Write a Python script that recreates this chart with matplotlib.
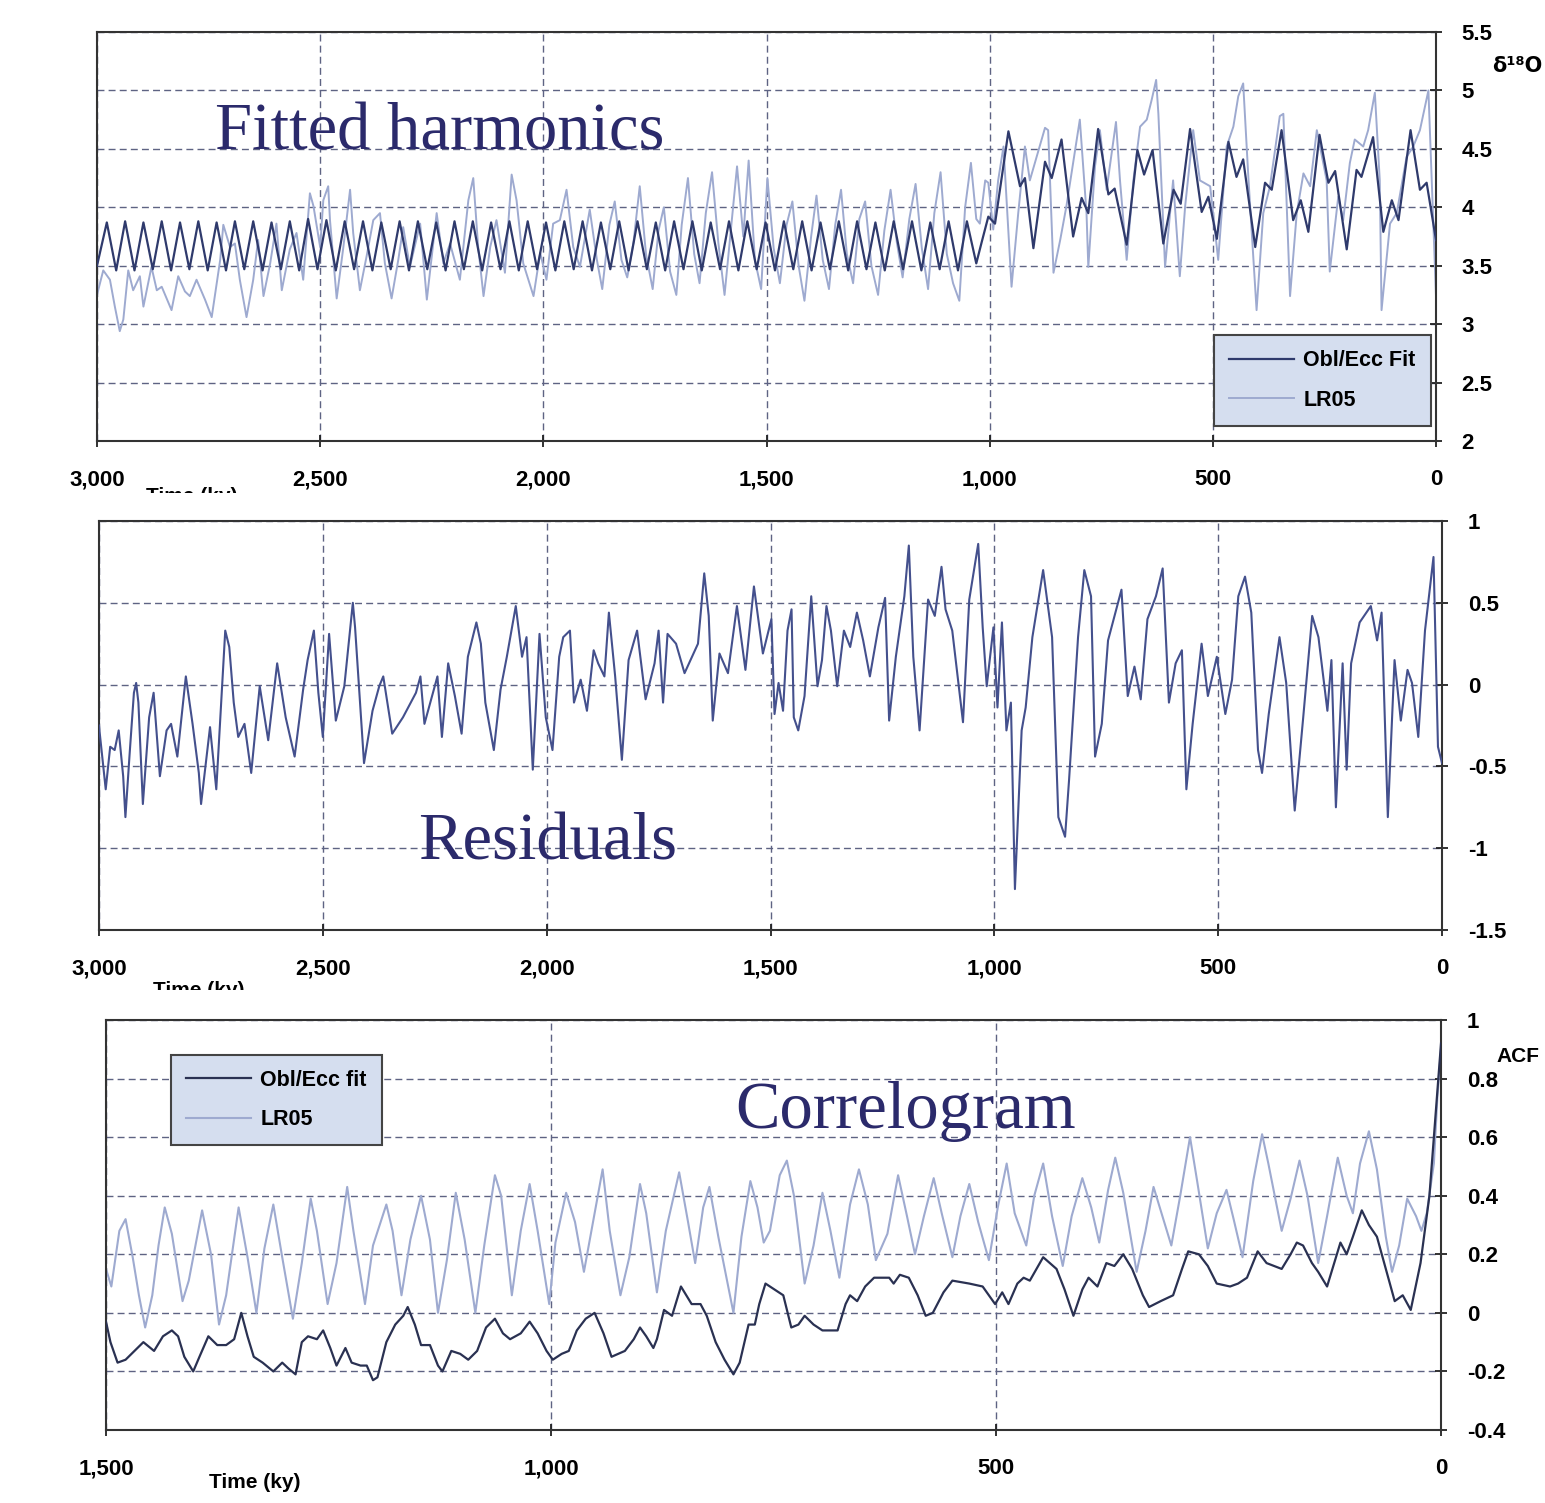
import matplotlib
matplotlib.use('Agg')
import matplotlib.pyplot as plt
from matplotlib.transforms import Bbox, TransformedBbox

plt.rcParams['axes.unicode_minus'] = False

# ---------------- Panel 1: fitted harmonics (time in ky, d18O) ----------------
fit_time = [3000, 2978, 2957, 2937, 2916, 2896, 2875, 2855, 2834, 2814, 2793, 2773, 2752,
            2732, 2711, 2691, 2670, 2650, 2629, 2609, 2588, 2568, 2547, 2527, 2506, 2486,
            2465, 2445, 2424, 2404, 2383, 2363, 2342, 2322, 2301, 2281, 2260, 2240, 2219,
            2199, 2178, 2158, 2137, 2117, 2096, 2076, 2055, 2035, 2014, 1994, 1973, 1953,
            1932, 1912, 1891, 1871, 1850, 1830, 1809, 1789, 1768, 1748, 1727, 1707, 1686,
            1666, 1645, 1625, 1604, 1584, 1563, 1543, 1522, 1502, 1481, 1461, 1440, 1420,
            1399, 1379, 1358, 1338, 1317, 1297, 1276, 1256, 1235, 1215, 1194, 1174, 1153,
            1133, 1112, 1092, 1071, 1051, 1030, 1018, 1003, 988, 958, 932, 921, 902, 876,
            861, 839, 813, 794, 779, 757, 734, 720, 693, 669, 654, 635, 611, 588, 572, 551,
            525, 510, 491, 465, 447, 432, 405, 383, 368, 346, 320, 303, 286, 261, 241, 226,
            200, 178, 167, 141, 118, 99, 84, 57, 36, 21, 0]
fit_d18o = [3.50, 3.87, 3.46, 3.88, 3.46, 3.87, 3.47, 3.88, 3.46, 3.87, 3.47, 3.88, 3.46,
            3.87, 3.46, 3.88, 3.47, 3.88, 3.46, 3.87, 3.47, 3.88, 3.46, 3.90, 3.47, 3.89,
            3.46, 3.88, 3.47, 3.88, 3.46, 3.87, 3.47, 3.88, 3.46, 3.88, 3.47, 3.87, 3.46,
            3.88, 3.47, 3.88, 3.46, 3.87, 3.47, 3.88, 3.46, 3.88, 3.47, 3.87, 3.46, 3.88,
            3.47, 3.88, 3.46, 3.87, 3.47, 3.88, 3.46, 3.88, 3.47, 3.87, 3.46, 3.88, 3.47,
            3.88, 3.46, 3.87, 3.47, 3.88, 3.46, 3.88, 3.47, 3.87, 3.46, 3.88, 3.47, 3.88,
            3.46, 3.87, 3.47, 3.88, 3.46, 3.88, 3.47, 3.87, 3.46, 3.88, 3.47, 3.88, 3.46,
            3.87, 3.47, 3.88, 3.46, 3.88, 3.52, 3.70, 3.92, 3.86, 4.65, 4.18, 4.25, 3.65, 4.39,
            4.25, 4.58, 3.75, 4.08, 3.95, 4.67, 4.11, 4.16, 3.68, 4.49, 4.28, 4.49, 3.69, 4.15,
            4.03, 4.67, 3.96, 4.09, 3.73, 4.56, 4.26, 4.41, 3.66, 4.21, 4.15, 4.66, 3.89, 4.06,
            3.79, 4.62, 4.21, 4.31, 3.64, 4.32, 4.26, 4.60, 3.79, 4.06, 3.89, 4.66, 4.15, 4.21,
            3.72]

lr05_time = [3000, 2986, 2971, 2960, 2949, 2941, 2930, 2919, 2904, 2896, 2878, 2866, 2855,
             2833, 2818, 2803, 2792, 2777, 2758, 2743, 2724, 2717, 2702, 2691, 2680, 2665,
             2650, 2639, 2627, 2612, 2598, 2586, 2568, 2553, 2538, 2523, 2515, 2500, 2493,
             2482, 2478, 2463, 2448, 2433, 2426, 2411, 2396, 2381, 2366, 2355, 2340, 2325,
             2314, 2299, 2276, 2261, 2239, 2224, 2209, 2187, 2168, 2157, 2146, 2134, 2119,
             2105, 2086, 2071, 2060, 2045, 2022, 2007, 1993, 1978, 1963, 1948, 1933, 1918,
             1896, 1880, 1868, 1852, 1840, 1825, 1812, 1798, 1784, 1770, 1755, 1742, 1730,
             1716, 1702, 1690, 1676, 1662, 1650, 1636, 1622, 1608, 1594, 1580, 1566, 1552,
             1540, 1526, 1512, 1498, 1484, 1470, 1455, 1442, 1428, 1415, 1400, 1388, 1374,
             1360, 1346, 1333, 1320, 1306, 1292, 1279, 1265, 1250, 1236, 1222, 1208, 1195,
             1180, 1166, 1152, 1138, 1124, 1110, 1096, 1082, 1068, 1055, 1042, 1030, 1022,
             1010, 1003, 992, 981, 969, 951, 936, 921, 910, 895, 876, 869, 857, 842, 828,
             813, 798, 783, 779, 764, 753, 738, 717, 708, 693, 678, 663, 648, 637, 627, 622,
             607, 589, 574, 562, 544, 529, 506, 488, 469, 454, 443, 432, 420, 402, 387, 372,
             350, 342, 327, 312, 297, 282, 267, 245, 238, 219, 208, 193, 182, 163, 152, 137,
             126, 122, 103, 88, 66, 51, 36, 17, 0]
lr05_d18o = [3.25, 3.46, 3.38, 3.15, 2.94, 3.04, 3.46, 3.29, 3.41, 3.15, 3.49, 3.29, 3.32,
             3.12, 3.41, 3.28, 3.24, 3.38, 3.21, 3.06, 3.55, 3.85, 3.66, 3.69, 3.38, 3.06,
             3.38, 3.72, 3.24, 3.52, 3.86, 3.29, 3.64, 3.78, 3.38, 4.12, 4.01, 3.66, 4.06,
             4.18, 3.89, 3.22, 3.66, 4.15, 3.78, 3.29, 3.58, 3.89, 3.95, 3.52, 3.22, 3.55,
             3.83, 3.49, 3.86, 3.21, 3.95, 3.52, 3.69, 3.38, 4.06, 4.25, 3.66, 3.24, 3.66,
             3.89, 3.44, 4.28, 4.06, 3.52, 3.24, 3.61, 3.38, 3.86, 3.89, 4.15, 3.66, 3.49,
             3.98, 3.55, 3.30, 3.85, 4.05, 3.55, 3.40, 3.70, 4.18, 3.60, 3.30, 3.80, 4.00,
             3.45, 3.25, 3.85, 4.25, 3.60, 3.35, 3.95, 4.30, 3.70, 3.25, 3.80, 4.35, 3.75,
             4.40, 3.55, 3.30, 4.25, 3.65, 3.35, 3.85, 4.05, 3.50, 3.20, 3.75, 4.10, 3.55,
             3.30, 3.85, 4.15, 3.60, 3.35, 3.90, 4.05, 3.50, 3.25, 3.80, 4.15, 3.70, 3.40,
             3.90, 4.20, 3.65, 3.30, 3.95, 4.30, 3.60, 3.35, 3.20, 4.00, 4.38, 3.90, 3.86,
             4.23, 4.21, 3.81, 4.23, 4.52, 3.32, 3.95, 4.52, 4.23, 4.43, 4.68, 4.66, 3.44,
             3.72, 4.01, 4.38, 4.75, 3.95, 3.49, 4.35, 4.66, 4.15, 4.73, 4.23, 3.55, 4.23,
             4.69, 4.75, 4.92, 5.09, 4.80, 3.49, 4.23, 3.41, 4.01, 4.66, 4.23, 4.18, 3.55,
             4.52, 4.69, 4.95, 5.06, 4.23, 3.12, 3.95, 4.18, 4.78, 4.80, 3.24, 3.95, 4.29,
             4.18, 4.66, 4.23, 3.45, 4.09, 3.89, 4.38, 4.58, 4.52, 4.66, 4.98, 4.23, 3.12,
             3.86, 3.95, 4.43, 4.52, 4.66, 5.00, 3.24]

# ---------------- Panel 2: residuals ----------------
resid_time = [3000, 2999, 2985, 2975, 2965, 2956, 2946, 2941, 2932, 2922, 2917, 2912, 2902,
              2888, 2878, 2864, 2849, 2839, 2825, 2806, 2791, 2777, 2772, 2752, 2738, 2718,
              2709, 2699, 2689, 2675, 2660, 2641, 2622, 2602, 2583, 2563, 2544, 2534, 2520,
              2510, 2500, 2486, 2471, 2452, 2433, 2428, 2408, 2389, 2374, 2365, 2345, 2321,
              2292, 2282, 2273, 2244, 2234, 2220, 2205, 2190, 2176, 2157, 2147, 2137, 2118,
              2103, 2089, 2069, 2055, 2045, 2031, 2016, 2002, 1987, 1972, 1963, 1948, 1939,
              1924, 1910, 1895, 1885, 1871, 1861, 1847, 1832, 1817, 1798, 1779, 1759, 1750,
              1740, 1730, 1711, 1692, 1662, 1648, 1638, 1629, 1614, 1595, 1575, 1556, 1537,
              1517, 1498, 1491, 1482, 1472, 1462, 1453, 1448, 1438, 1424, 1409, 1395, 1385,
              1375, 1365, 1351, 1336, 1322, 1307, 1293, 1278, 1259, 1244, 1235, 1220, 1201,
              1191, 1181, 1167, 1148, 1133, 1118, 1109, 1094, 1070, 1056, 1036, 1026, 1017,
              1002, 993, 983, 973, 963, 954, 939, 930, 915, 891, 871, 857, 842, 833, 813, 799,
              784, 775, 760, 746, 716, 702, 687, 673, 658, 639, 624, 610, 595, 581, 571, 557,
              537, 523, 503, 484, 469, 455, 440, 426, 411, 402, 387, 363, 348, 329, 310, 290,
              276, 256, 247, 237, 222, 213, 203, 184, 159, 145, 135, 121, 106, 92, 77, 67, 53,
              38, 19, 9, 0]
resid_val = [-0.25, -0.28, -0.64, -0.38, -0.40, -0.28, -0.56, -0.81, -0.44, -0.05, 0.01,
             -0.11, -0.73, -0.20, -0.05, -0.56, -0.28, -0.24, -0.44, 0.05, -0.24, -0.54,
             -0.73, -0.26, -0.64, 0.33, 0.23, -0.11, -0.32, -0.24, -0.54, -0.01, -0.34, 0.13,
             -0.20, -0.44, -0.03, 0.15, 0.33, -0.05, -0.32, 0.31, -0.22, -0.01, 0.50, 0.35,
             -0.48, -0.16, -0.01, 0.05, -0.30, -0.20, -0.05, 0.05, -0.24, 0.05, -0.32, 0.13,
             -0.07, -0.30, 0.17, 0.38, 0.25, -0.11, -0.40, -0.03, 0.17, 0.48, 0.17, 0.29,
             -0.52, 0.31, -0.20, -0.40, 0.17, 0.29, 0.33, -0.11, 0.03, -0.16, 0.21, 0.13, 0.05,
             0.44, 0.05, -0.46, 0.15, 0.33, -0.09, 0.13, 0.33, -0.11, 0.31, 0.25, 0.07, 0.25,
             0.68, 0.42, -0.22, 0.19, 0.07, 0.48, 0.09, 0.60, 0.19, 0.40, -0.18, 0.01, -0.16,
             0.33, 0.46, -0.20, -0.28, -0.07, 0.54, -0.01, 0.15, 0.48, 0.33, -0.01, 0.33, 0.23,
             0.44, 0.27, 0.05, 0.35, 0.53, -0.22, 0.17, 0.54, 0.85, 0.17, -0.28, 0.52, 0.42,
             0.72, 0.46, 0.33, -0.23, 0.52, 0.86, 0.35, -0.01, 0.35, -0.14, 0.38, -0.28, -0.11,
             -1.25, -0.28, -0.14, 0.29, 0.70, 0.29, -0.81, -0.93, -0.58, 0.29, 0.70, 0.54,
             -0.44, -0.24, 0.27, 0.58, -0.07, 0.11, -0.09, 0.40, 0.54, 0.71, -0.11, 0.13, 0.21,
             -0.64, -0.24, 0.25, -0.07, 0.17, -0.18, 0.03, 0.54, 0.66, 0.44, -0.40, -0.54,
             -0.18, 0.29, 0.01, -0.77, -0.20, 0.42, 0.29, -0.16, 0.15, -0.75, 0.13, -0.52,
             0.13, 0.38, 0.48, 0.27, 0.44, -0.81, 0.15, -0.22, 0.09, 0.01, -0.32, 0.33, 0.78,
             -0.38, -0.48]

# ---------------- Panel 3: correlogram (lag in ky, ACF) ----------------
acf_fit_lag = [1500, 1495, 1487, 1478, 1468, 1458, 1446, 1436, 1426, 1419, 1412, 1402, 1395,
               1385, 1375, 1365, 1356, 1348, 1341, 1334, 1324, 1312, 1302, 1295, 1287, 1280,
               1273, 1263, 1256, 1248, 1241, 1231, 1224, 1214, 1207, 1200, 1195, 1185, 1175,
               1166, 1161, 1153, 1146, 1136, 1127, 1122, 1112, 1102, 1093, 1083, 1073, 1063,
               1054, 1046, 1034, 1024, 1015, 1005, 998, 988, 980, 971, 961, 951, 941, 932, 917,
               907, 900, 893, 885, 881, 873, 864, 854, 842, 832, 825, 815, 805, 795, 788, 778,
               771, 766, 759, 749, 739, 730, 722, 715, 705, 695, 678, 669, 664, 656, 647, 637,
               627, 620, 615, 608, 598, 588, 579, 571, 559, 549, 530, 515, 508, 501, 493, 486,
               476, 469, 462, 447, 432, 423, 413, 403, 396, 386, 376, 367, 357, 347, 335, 328,
               315, 301, 291, 284, 272, 262, 252, 237, 228, 218, 206, 196, 179, 169, 162, 155,
               145, 138, 128, 120, 113, 106, 99, 89, 81, 72, 62, 52, 43, 34, 23, 13, 6, 0]
acf_fit_val = [-0.03, -0.10, -0.17, -0.16, -0.13, -0.10, -0.13, -0.08, -0.06, -0.08, -0.15,
               -0.20, -0.15, -0.08, -0.11, -0.11, -0.09, 0.00, -0.08, -0.15, -0.17, -0.20,
               -0.17, -0.19, -0.21, -0.10, -0.08, -0.09, -0.06, -0.12, -0.18, -0.12, -0.17,
               -0.18, -0.18, -0.23, -0.22, -0.10, -0.04, -0.01, 0.02, -0.04, -0.11, -0.11,
               -0.18, -0.20, -0.13, -0.14, -0.16, -0.13, -0.05, -0.02, -0.07, -0.09, -0.07,
               -0.03, -0.07, -0.13, -0.16, -0.14, -0.13, -0.06, -0.02, 0.00, -0.07, -0.15,
               -0.13, -0.09, -0.05, -0.08, -0.12, -0.09, 0.01, -0.01, 0.09, 0.03, 0.03, -0.01,
               -0.10, -0.16, -0.21, -0.17, -0.04, -0.04, 0.03, 0.10, 0.08, 0.06, -0.05, -0.04,
               -0.01, -0.04, -0.06, -0.06, 0.03, 0.06, 0.04, 0.09, 0.12, 0.12, 0.12, 0.10, 0.13,
               0.12, 0.06, -0.01, 0.00, 0.07, 0.11, 0.10, 0.09, 0.06, 0.03, 0.07, 0.03, 0.10,
               0.12, 0.11, 0.19, 0.15, 0.08, -0.01, 0.08, 0.12, 0.09, 0.17, 0.16, 0.20, 0.15,
               0.06, 0.02, 0.04, 0.06, 0.15, 0.21, 0.20, 0.16, 0.10, 0.09, 0.10, 0.12, 0.21,
               0.17, 0.15, 0.20, 0.24, 0.23, 0.17, 0.14, 0.09, 0.17, 0.24, 0.20, 0.26, 0.35,
               0.30, 0.26, 0.15, 0.04, 0.06, 0.01, 0.17, 0.40, 0.68, 0.92]

acf_lr05_lag = [1500, 1494, 1485, 1478, 1470, 1463, 1456, 1448, 1441, 1434, 1426, 1414, 1407,
                1392, 1382, 1373, 1365, 1351, 1341, 1331, 1322, 1312, 1302, 1290, 1280, 1270,
                1263, 1251, 1241, 1229, 1222, 1209, 1200, 1185, 1178, 1168, 1158, 1146, 1136,
                1127, 1117, 1107, 1097, 1085, 1075, 1063, 1056, 1044, 1034, 1024, 1015, 1002,
                995, 983, 973, 963, 951, 942, 934, 922, 912, 900, 893, 881, 871, 856, 846, 838,
                829, 822, 812, 795, 786, 776, 768, 761, 754, 743, 735, 727, 717, 715, 705, 695,
                686, 676, 664, 654, 644, 635, 622, 610, 600, 591, 581, 570, 561, 549, 540, 530,
                520, 508, 498, 488, 479, 466, 457, 447, 437, 425, 415, 403, 393, 384, 374, 366,
                357, 342, 332, 323, 313, 303, 293, 282, 274, 262, 252, 241, 233, 223, 211, 201,
                194, 179, 169, 159, 150, 138, 128, 116, 106, 99, 91, 81, 72, 62, 55, 47, 38, 28,
                22, 16, 8, 4, 0]
acf_lr05_val = [0.15, 0.09, 0.28, 0.32, 0.19, 0.06, -0.05, 0.06, 0.23, 0.36, 0.27, 0.04, 0.11,
                0.35, 0.20, -0.04, 0.06, 0.36, 0.19, 0.00, 0.22, 0.37, 0.19, -0.02, 0.17, 0.39,
                0.28, 0.03, 0.17, 0.43, 0.28, 0.03, 0.23, 0.37, 0.28, 0.06, 0.25, 0.40, 0.25,
                0.00, 0.18, 0.41, 0.25, 0.00, 0.23, 0.47, 0.40, 0.06, 0.28, 0.44, 0.28, 0.03,
                0.24, 0.41, 0.31, 0.14, 0.34, 0.49, 0.28, 0.06, 0.19, 0.44, 0.34, 0.07, 0.28,
                0.48, 0.31, 0.17, 0.36, 0.43, 0.26, 0.00, 0.26, 0.45, 0.36, 0.24, 0.28, 0.47,
                0.52, 0.40, 0.15, 0.10, 0.23, 0.41, 0.28, 0.12, 0.37, 0.49, 0.37, 0.18, 0.27,
                0.47, 0.33, 0.20, 0.33, 0.46, 0.34, 0.19, 0.33, 0.44, 0.31, 0.18, 0.36, 0.51,
                0.34, 0.23, 0.40, 0.51, 0.33, 0.16, 0.33, 0.46, 0.36, 0.24, 0.42, 0.53, 0.41,
                0.14, 0.28, 0.43, 0.33, 0.23, 0.40, 0.60, 0.45, 0.22, 0.34, 0.42, 0.32, 0.19,
                0.45, 0.61, 0.51, 0.28, 0.39, 0.52, 0.40, 0.17, 0.33, 0.53, 0.40, 0.34, 0.51,
                0.62, 0.49, 0.26, 0.14, 0.23, 0.39, 0.33, 0.28, 0.34, 0.51, 0.74, 0.90]

# ---------------- tick values ----------------
x_ticks_long = [3000, 2500, 2000, 1500, 1000, 500, 0]
y1_ticks = [2, 2.5, 3, 3.5, 4, 4.5, 5, 5.5]
y2_ticks = [-1.5, -1, -0.5, 0, 0.5, 1]
x3_ticks = [1500, 1000, 500, 0]
y3_ticks = [-0.4, -0.2, 0, 0.2, 0.4, 0.6, 0.8, 1]

W, H = 1545, 1503
fig = plt.figure(figsize=(W / 100, H / 100), dpi=100)

DARK = '#2f3a6c'
LIGHT = '#9eaad0'
RESID = '#44508d'
GRID = '#5e6383'
TITLE = '#2b2a6b'
TICKFONT = ['Liberation Sans', 'DejaVu Sans']


def px_axes(l, t, r, b):
    return fig.add_axes([l / W, 1 - b / H, (r - l) / W, (b - t) / H])


def fmt_x(v):
    return f"{int(v):,}"


def fmt_y(v):
    return f"{v:g}"


def style(ax, xlim, ylim, xt, yt):
    ax.set_xlim(*xlim)
    ax.set_ylim(*ylim)
    ax.set_xticks(xt)
    ax.set_xticklabels([fmt_x(v) for v in xt])
    ax.set_yticks(yt)
    ax.set_yticklabels([fmt_y(v) for v in yt])
    ax.yaxis.tick_right()
    ax.tick_params(axis='both', direction='inout', length=9, width=1.3,
                   colors='#222222', labelcolor='black', labelsize=16)
    ax.tick_params(axis='x', pad=16)
    ax.tick_params(axis='y', pad=14)
    for lab in ax.get_xticklabels() + ax.get_yticklabels():
        lab.set_fontfamily(TICKFONT)
        lab.set_fontweight('bold')
    ax.grid(True, linestyle=(0, (5, 3)), color=GRID, linewidth=1.0)
    ax.set_axisbelow(True)
    for s in ax.spines.values():
        s.set_color('#333333')
        s.set_linewidth(1.5)


def ftext(x, y, s, **kw):
    return fig.text(x / W, 1 - y / H, s, **kw)


LEG = dict(borderaxespad=0, fancybox=False, framealpha=1, facecolor='#d5deef',
           edgecolor='#444444', handlelength=3.0, handletextpad=0.45,
           labelspacing=0.85, borderpad=0.7,
           prop={'family': TICKFONT, 'weight': 'bold', 'size': 15.5})

# Panel 1
ax1 = px_axes(97, 32, 1436, 441)
style(ax1, (3000, 0), (2, 5.5), x_ticks_long, y1_ticks)
ax1.plot(lr05_time, lr05_d18o, color=LIGHT, lw=1.4, label='LR05', zorder=2,
         solid_joinstyle='round')
ax1.plot(fit_time, fit_d18o, color=DARK, lw=1.6, label='Obl/Ecc Fit', zorder=3,
         solid_joinstyle='round')
h, l = ax1.get_legend_handles_labels()
leg1 = ax1.legend(h[::-1], l[::-1], loc='lower right', bbox_to_anchor=(0.996, 0.037), **LEG)
leg1.get_frame().set_linewidth(1.5)

# Panel 2
ax2 = px_axes(99, 521, 1442, 930)
style(ax2, (3000, 0), (-1.5, 1), x_ticks_long, y2_ticks)
ax2.plot(resid_time, resid_val, color=RESID, lw=1.5, zorder=3, solid_joinstyle='round')

# Panel 3
ax3 = px_axes(106, 1020, 1441, 1430)
style(ax3, (1500, 0), (-0.4, 1), x3_ticks, y3_ticks)
ax3.plot(acf_lr05_lag, acf_lr05_val, color=LIGHT, lw=1.5, label='LR05', zorder=2,
         solid_joinstyle='round')
ax3.plot(acf_fit_lag, acf_fit_val, color='#2a3152', lw=1.6, label='Obl/Ecc fit', zorder=3,
         solid_joinstyle='round')
h, l = ax3.get_legend_handles_labels()
leg3 = ax3.legend(h[::-1], l[::-1], loc='upper left', bbox_to_anchor=(0.0487, 0.915), **LEG)
leg3.get_frame().set_linewidth(1.5)

# Titles
serif = ['Liberation Serif', 'DejaVu Serif']
ftext(215, 150, 'Fitted harmonics', family=serif, size=48, color=TITLE, va='baseline')
ftext(418, 860, 'Residuals', family=serif, size=48, color=TITLE, va='baseline')
ftext(735, 1128, 'Correlogram', family=serif, size=48, color=TITLE, va='baseline')

# axis labels
ftext(1517, 66, 'δ¹⁸O', family=['DejaVu Sans'], weight='bold', size=15,
      ha='center', va='center')
ftext(1518, 1056, 'ACF', family=TICKFONT, weight='bold', size=15, ha='center', va='center')
ftext(255, 1483, 'Time (ky)', family=TICKFONT, weight='bold', size=15, ha='center',
      va='center')
for (xx, yy, cut) in [(192, 496, 493), (199, 991, 990)]:
    t = ftext(xx, yy, 'Time (ky)', family=TICKFONT, weight='bold', size=15,
              ha='center', va='center')
    bb = Bbox.from_extents(0, (H - cut) / H, 1, 1)
    t.set_clip_box(TransformedBbox(bb, fig.transFigure))
    t.set_clip_on(True)

fig.savefig('out.png', dpi=100)
